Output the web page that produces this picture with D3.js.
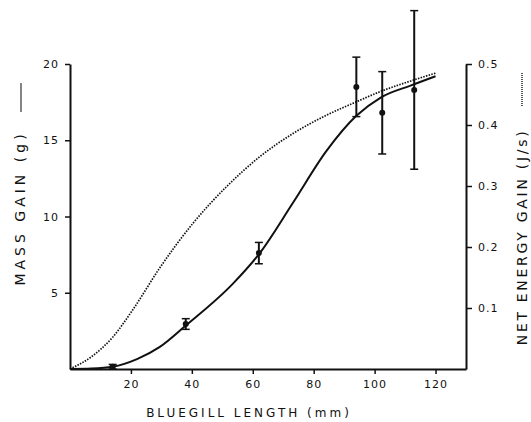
<!DOCTYPE html>
<html>
<head>
<meta charset="utf-8">
<title>Bluegill mass and energy gain</title>
<style>
body {
	margin: 0;
	background: #fff;
}
text {
	font-family: "DejaVu Sans", sans-serif;
	fill: #111;
}
</style>
<script src="https://d3js.org/d3.v7.min.js"></script>
</head>
<body>
<svg id="chart" width="531" height="422"></svg>
<script>
// solid curve: mass gain (g) vs length (mm)
var massLength = [0, 7, 14, 22, 29.5, 38, 53.5, 62.3, 73.2, 84.2, 94, 102, 112, 120];
var massGain   = [0, 0.03, 0.15, 0.65, 1.45, 2.85, 5.6, 7.6, 10.9, 14.3, 16.6, 17.8, 18.6, 19.2];

// dotted curve: net energy gain (J/s) vs length (mm)
var energyLength = [0, 7, 14, 21, 29.5, 40.4, 51.4, 62.3, 73.2, 84.2, 94, 102, 113, 120];
var energyGain   = [0, 0.02, 0.052, 0.10, 0.166, 0.239, 0.299, 0.348, 0.386, 0.416, 0.438, 0.455, 0.474, 0.485];

// observed means with error bars
var obsLength = [14, 38, 62, 94, 102.5, 113];
var obsMass   = [0.15, 2.95, 7.6, 18.5, 16.8, 18.3];
var obsErr    = [0.15, 0.35, 0.7, 1.95, 2.7, 5.2];

var xTicks = [20, 40, 60, 80, 100, 120];
var massTicks = [5, 10, 15, 20];
var energyTicks = [0.1, 0.2, 0.3, 0.4, 0.5];

var svg = d3.select("#chart");

var x = d3.scaleLinear().domain([0, 130]).range([70, 466]);
var yMass = d3.scaleLinear().domain([0, 20]).range([369, 64]);
var yEnergy = d3.scaleLinear().domain([0, 0.5]).range([369, 64]);

// axes
var xAxis = svg.append("g")
	.attr("transform", "translate(0,369)")
	.call(d3.axisBottom(x).tickValues(xTicks).tickSize(5).tickPadding(6).tickSizeOuter(0));
var lAxis = svg.append("g")
	.attr("transform", "translate(70,0)")
	.call(d3.axisLeft(yMass).tickValues(massTicks).tickSize(5).tickPadding(6).tickSizeOuter(0));
var rAxis = svg.append("g")
	.attr("transform", "translate(466,0)")
	.call(d3.axisRight(yEnergy).tickValues(energyTicks).tickFormat(d3.format(".1f"))
		.tickSize(6).tickPadding(6).tickSizeOuter(0));

[xAxis, lAxis, rAxis].forEach(function(a) {
	a.select(".domain").attr("stroke", "#111").attr("stroke-width", 2);
	a.selectAll(".tick line").attr("stroke", "#111").attr("stroke-width", 1.5);
	a.selectAll(".tick text")
		.attr("font-size", 11)
		.attr("fill", "#111")
		.style("font-family", "DejaVu Sans, sans-serif")
		.style("letter-spacing", "1px");
});

// curves
var massLine = d3.line()
	.x(function(d, i) { return x(massLength[i]); })
	.y(function(d) { return yMass(d); })
	.curve(d3.curveMonotoneX);
svg.append("path")
	.attr("d", massLine(massGain))
	.attr("fill", "none")
	.attr("stroke", "#111")
	.attr("stroke-width", 2);

var energyLine = d3.line()
	.x(function(d, i) { return x(energyLength[i]); })
	.y(function(d) { return yEnergy(d); })
	.curve(d3.curveMonotoneX);
svg.append("path")
	.attr("d", energyLine(energyGain))
	.attr("fill", "none")
	.attr("stroke", "#111")
	.attr("stroke-width", 1.7)
	.attr("stroke-dasharray", "1.5,1.3");

// error bars and points
var obs = obsLength.map(function(l, i) { return {l: l, m: obsMass[i], e: obsErr[i]}; });
var bars = svg.append("g").selectAll("g").data(obs).enter().append("g");
bars.append("line")
	.attr("x1", function(d) { return x(d.l); })
	.attr("x2", function(d) { return x(d.l); })
	.attr("y1", function(d) { return yMass(d.m - d.e); })
	.attr("y2", function(d) { return yMass(d.m + d.e); })
	.attr("stroke", "#111").attr("stroke-width", 2);
[-1, 1].forEach(function(s) {
	bars.append("line")
		.attr("x1", function(d) { return x(d.l) - 4; })
		.attr("x2", function(d) { return x(d.l) + 4; })
		.attr("y1", function(d) { return yMass(d.m + s * d.e); })
		.attr("y2", function(d) { return yMass(d.m + s * d.e); })
		.attr("stroke", "#111").attr("stroke-width", 1.5);
});
bars.append("circle")
	.attr("cx", function(d) { return x(d.l); })
	.attr("cy", function(d) { return yMass(d.m); })
	.attr("r", 3)
	.attr("fill", "#111");

// axis titles
svg.append("text")
	.attr("x", 249).attr("y", 417)
	.attr("text-anchor", "middle")
	.attr("font-size", 12)
	.style("letter-spacing", "3px")
	.text("BLUEGILL LENGTH (mm)");

svg.append("text")
	.attr("transform", "translate(25,208) rotate(-90)")
	.attr("text-anchor", "middle")
	.attr("font-size", 14)
	.style("letter-spacing", "4px")
	.text("MASS GAIN (g)");
svg.append("line")
	.attr("x1", 21).attr("x2", 21).attr("y1", 83).attr("y2", 112)
	.attr("stroke", "#333").attr("stroke-width", 1.2);

svg.append("text")
	.attr("transform", "translate(527,237) rotate(-90)")
	.attr("text-anchor", "middle")
	.attr("font-size", 14)
	.style("letter-spacing", "2.7px")
	.text("NET ENERGY GAIN (J/s)");
svg.append("line")
	.attr("x1", 522).attr("x2", 522).attr("y1", 73).attr("y2", 107)
	.attr("stroke", "#111").attr("stroke-width", 1.4)
	.attr("stroke-dasharray", "1,1");
</script>
</body>
</html>
